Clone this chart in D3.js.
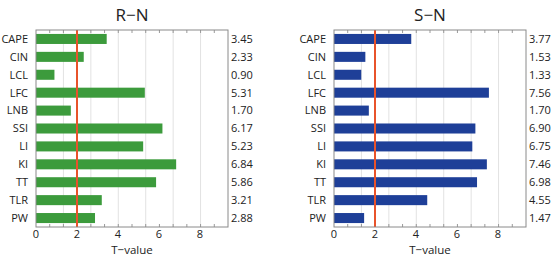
<!DOCTYPE html>
<html>
<head>
<meta charset="utf-8">
<script src="https://cdn.jsdelivr.net/npm/d3@7"></script>
<style>
  body { margin: 0; background: #fff; }
  text { font-family: "Open Sans", sans-serif; fill: #222; }
</style>
</head>
<body>
<div id="chart"></div>
<script>
// Data
const categories = ["CAPE", "CIN", "LCL", "LFC", "LNB", "SSI", "LI", "KI", "TT", "TLR", "PW"];
const rnValues = [3.45, 2.33, 0.90, 5.31, 1.70, 6.17, 5.23, 6.84, 5.86, 3.21, 2.88];
const snValues = [3.77, 1.53, 1.33, 7.56, 1.70, 6.90, 6.75, 7.46, 6.98, 4.55, 1.47];
const xTicks = [0, 2, 4, 6, 8];
const threshold = 2;

const width = 555, height = 257;
const boxW = 192, boxTop = 30, boxBottom = 227;

const svg = d3.select("#chart").append("svg")
    .attr("width", width)
    .attr("height", height);

/**
 * Draw one panel of horizontal bars
 */
function drawPanel(left, title, values, color) {
    const g = svg.append("g").attr("transform", `translate(${left},0)`);

    const x = d3.scaleLinear().domain([0, 9.37]).range([0, boxW]);
    const y = d3.scaleBand().domain(categories).range([boxTop, boxBottom]).paddingInner(0.44).paddingOuter(0.22);

    // light grid lines (7 equal divisions of the box)
    const gridPos = d3.range(1, 7).map(i => i * boxW / 7);
    g.selectAll(".grid")
        .data(gridPos)
        .enter().append("line")
        .attr("x1", d => d).attr("x2", d => d)
        .attr("y1", boxTop).attr("y2", boxBottom)
        .attr("stroke", "#e2e2e2")
        .attr("stroke-width", 1);

    // minor ticks on top and bottom
    const minor = d3.range(1, 14).map(i => i * boxW / 14);
    g.selectAll(".tb")
        .data(minor)
        .enter().append("line")
        .attr("x1", d => d).attr("x2", d => d)
        .attr("y1", boxBottom).attr("y2", boxBottom - 3)
        .attr("stroke", "#999");
    g.selectAll(".tt")
        .data(minor)
        .enter().append("line")
        .attr("x1", d => d).attr("x2", d => d)
        .attr("y1", boxTop).attr("y2", boxTop + 3)
        .attr("stroke", "#999");

    // bars
    g.selectAll(".bar")
        .data(values)
        .enter().append("rect")
        .attr("x", x(0))
        .attr("y", (d, i) => y(categories[i]))
        .attr("width", d => x(d) - x(0))
        .attr("height", y.bandwidth())
        .attr("fill", color);

    // threshold line
    g.append("line")
        .attr("x1", x(threshold)).attr("x2", x(threshold))
        .attr("y1", boxTop).attr("y2", boxBottom)
        .attr("stroke", "#e8532b")
        .attr("stroke-width", 2);

    // frame
    g.append("rect")
        .attr("x", 0).attr("y", boxTop)
        .attr("width", boxW).attr("height", boxBottom - boxTop)
        .attr("fill", "none")
        .attr("stroke", "#8a8a8a")
        .attr("stroke-width", 1);

    // category labels
    g.selectAll(".cat")
        .data(categories)
        .enter().append("text")
        .attr("x", -8)
        .attr("y", d => y(d) + y.bandwidth() / 2)
        .attr("dy", "0.35em")
        .attr("text-anchor", "end")
        .attr("font-size", "11px")
        .text(d => d);

    // value labels on the right
    g.selectAll(".val")
        .data(values)
        .enter().append("text")
        .attr("x", boxW + 3)
        .attr("y", (d, i) => y(categories[i]) + y.bandwidth() / 2)
        .attr("dy", "0.35em")
        .attr("font-size", "11px")
        .text(d => d.toFixed(2));

    // x tick labels
    g.selectAll(".xt")
        .data(xTicks)
        .enter().append("text")
        .attr("x", d => x(d))
        .attr("y", boxBottom + 10.5)
        .attr("text-anchor", "middle")
        .attr("font-size", "11px")
        .text(d => d);

    // axis label
    g.append("text")
        .attr("x", boxW / 2)
        .attr("y", 253.5)
        .attr("text-anchor", "middle")
        .attr("font-size", "11.5px")
        .text("T\u2212value");

    // title
    g.append("text")
        .attr("x", boxW / 2)
        .attr("y", 21)
        .attr("text-anchor", "middle")
        .attr("font-size", "17px")
        .text(title);
}

drawPanel(36, "R\u2212N", rnValues, "#3c9b3c");
drawPanel(334, "S\u2212N", snValues, "#1e3f98");
</script>
</body>
</html>
